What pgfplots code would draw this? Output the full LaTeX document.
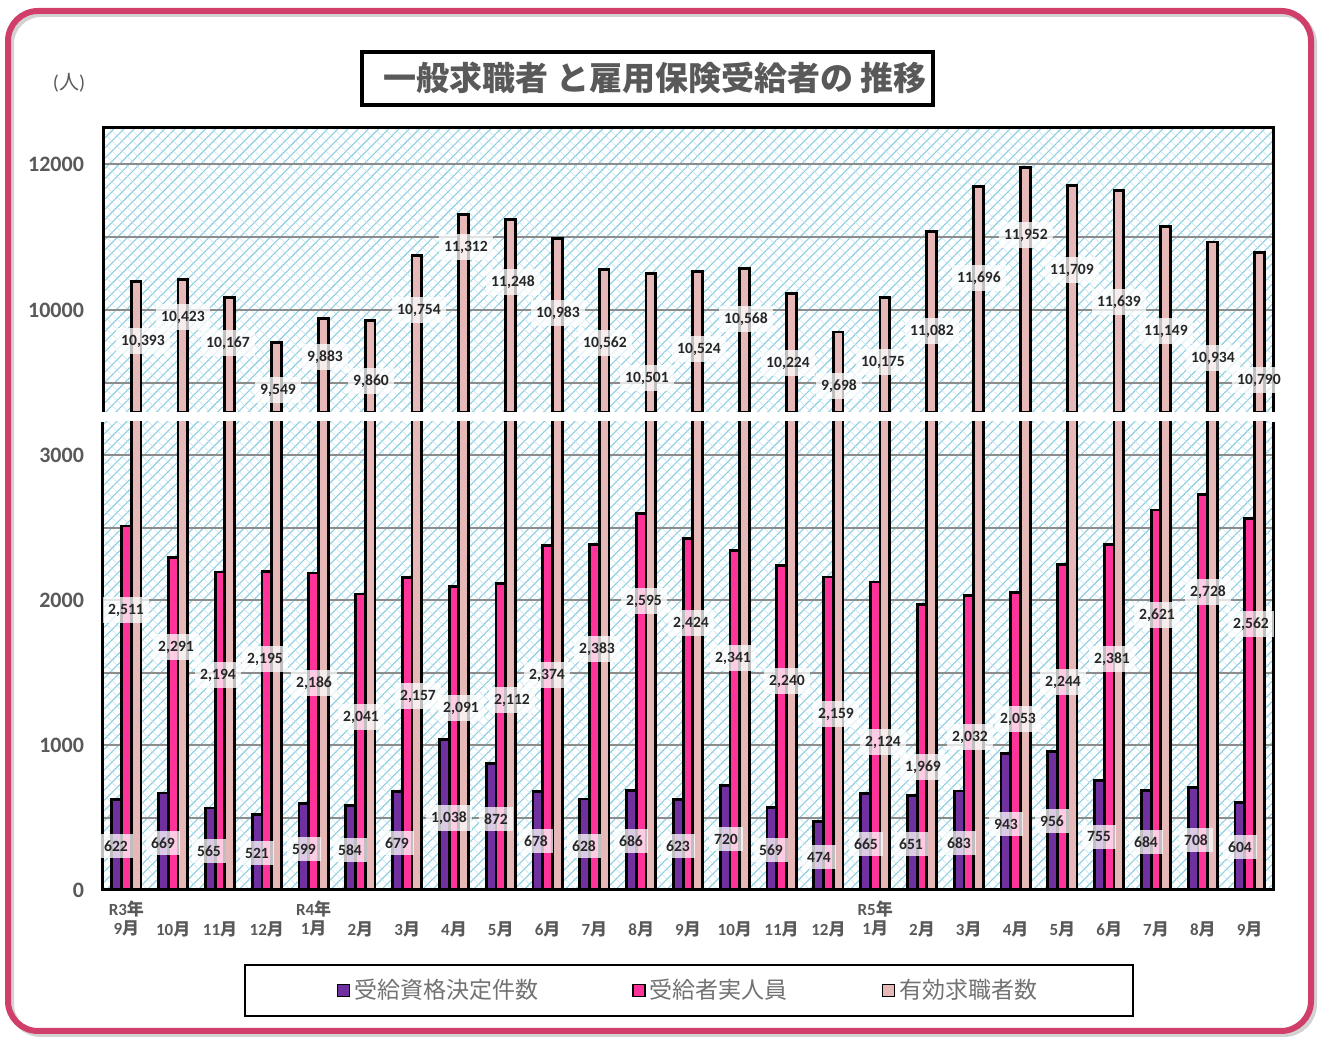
\documentclass[border=0pt]{standalone}
\usepackage{fontspec}
\setmainfont{Carlito}
\newfontfamily\cjk{Noto Sans CJK JP}
\usepackage{pgfplots}
\usepackage{pgfplotstable}
\pgfplotsset{compat=1.18}
\usetikzlibrary{patterns.meta}
\definecolor{cpurple}{RGB}{112,48,160}
\definecolor{cmag}{RGB}{255,51,153}
\definecolor{cpink}{RGB}{230,185,184}
\definecolor{ctxt}{RGB}{89,89,89}
\definecolor{clab}{RGB}{38,38,38}
\definecolor{cframe}{RGB}{208,62,106}
\definecolor{cpat}{RGB}{140,205,225}
\definecolor{cgrid}{RGB}{140,140,140}
\newcommand{\M}[1]{#1{\cjk 月}}

\pgfplotstableread{
x dec act reg
0 622 2511 10393
1 669 2291 10423
2 565 2194 10167
3 521 2195 9549
4 599 2186 9883
5 584 2041 9860
6 679 2157 10754
7 1038 2091 11312
8 872 2112 11248
9 678 2374 10983
10 628 2383 10562
11 686 2595 10501
12 623 2424 10524
13 720 2341 10568
14 569 2240 10224
15 474 2159 9698
16 665 2124 10175
17 651 1969 11082
18 683 2032 11696
19 943 2053 11952
20 956 2244 11709
21 755 2381 11639
22 684 2621 11149
23 708 2728 10934
24 604 2562 10790
}\data

\begin{document}
\begin{tikzpicture}
\useasboundingbox (0,0) rectangle (659pt,518.5pt);
\begin{scope}[x=0.5pt,y=-0.5pt,shift={(0pt,518.5pt)}]
\draw[gray!35, line width=3pt, rounded corners=15pt] (11,14) rectangle (1314,1034);
\draw[cframe, line width=3pt, rounded corners=15pt] (8,11) rectangle (1311,1031);
\draw[line width=2pt] (362,52) rectangle (933,105);
\node[text=ctxt, font=\cjk\fontsize{16.5}{18}\selectfont\bfseries] at (655,78) {一般求職者 と雇用保険受給者の 推移};
\node[text=ctxt, font=\fontsize{10}{12}\selectfont] at (69,83) {({\cjk 人})};
\end{scope}
\pgfplotsset{
  brk/.style={
    scale only axis, width=585pt, xmin=-0.5, xmax=24.5,
    clip mode=individual, scaled y ticks=false,
    axis line style={draw=none}, major tick length=0pt,
    ymajorgrids, major grid style={cgrid,line width=1pt},
    axis background/.style={fill=white,
      postaction={pattern={Lines[angle=45,distance=3.6pt,line width=0.55pt]},pattern color=cpat},
      postaction={pattern={Lines[angle=-45,distance=3.6pt,line width=0.25pt]},pattern color=cpat!55}},
    yticklabel style={font=\fontsize{11}{13}\selectfont\bfseries, text=ctxt, xshift=-6pt},
    bar width=4.85pt,
    every axis plot/.append style={draw=black, line width=1.4pt},
    lg/.style={legend image code/.code={\draw[##1, line width=0.8pt, draw=black] (0pt,-3pt) rectangle (6pt,3pt);}},
  }
}
\begin{axis}[brk, at={(51.5pt,312.5pt)}, anchor=south west, height=142pt,
  ymin=8600, ymax=12500, xtick=\empty,
  ytick={9000,10000,11000,12000}, yticklabels={,10000,,12000},
  after end axis/.code={\draw[line width=1.5pt] (rel axis cs:0,0)--(rel axis cs:0,1)--(rel axis cs:1,1)--(rel axis cs:1,0);}]
\addplot[ybar, fill=cpink, bar shift=4.85pt] table[x=x,y=reg]{\data};
\end{axis}
\begin{axis}[brk, at={(51.5pt,73.5pt)}, anchor=south west, height=234pt,
  ymin=0, ymax=3228,
  ytick={0,500,...,3000}, yticklabels={0,,1000,,2000,,3000},
  xtick={0,...,24},
  xticklabels={{R3{\cjk 年}\\\M{9}},{\strut\\\M{10}},{\strut\\\M{11}},{\strut\\\M{12}},{R4{\cjk 年}\\\M{1}},{\strut\\\M{2}},{\strut\\\M{3}},{\strut\\\M{4}},{\strut\\\M{5}},{\strut\\\M{6}},{\strut\\\M{7}},{\strut\\\M{8}},{\strut\\\M{9}},{\strut\\\M{10}},{\strut\\\M{11}},{\strut\\\M{12}},{R5{\cjk 年}\\\M{1}},{\strut\\\M{2}},{\strut\\\M{3}},{\strut\\\M{4}},{\strut\\\M{5}},{\strut\\\M{6}},{\strut\\\M{7}},{\strut\\\M{8}},{\strut\\\M{9}}},
  xticklabel style={align=center, font=\fontsize{8.5}{9.5}\selectfont\bfseries, text=ctxt, yshift=-2pt},
  legend style={at={(axis description cs:0.5009,-0.2147)}, anchor=center, legend columns=3,
    draw=black, line width=1pt, font=\cjk\fontsize{11.5}{13}\selectfont, text=ctxt!85,
    inner xsep=46pt, inner ysep=5pt,
    /tikz/every even column/.append style={column sep=45pt}},
  after end axis/.code={\draw[line width=1.5pt] (rel axis cs:0,1)--(rel axis cs:0,0)--(rel axis cs:1,0)--(rel axis cs:1,1);}]
\addplot[ybar, fill=cpurple, bar shift=-4.85pt, lg] table[x=x,y=dec]{\data};
\addplot[ybar, fill=cmag, bar shift=0pt, lg] table[x=x,y=act]{\data};
\addplot[ybar, fill=cpink, bar shift=4.85pt, lg] table[x=x,y=reg]{\data};
\legend{受給資格決定件数,受給者実人員,有効求職者数}
\end{axis}
\begin{scope}[x=0.5pt,y=-0.5pt,shift={(0pt,518.5pt)},
  lab/.style={fill=white, fill opacity=0.75, text opacity=1, inner xsep=2.5pt, inner ysep=3.5pt,
    font=\fontsize{7.8}{9}\selectfont\bfseries, text=clab}]
\foreach \x/\y/\t in {143/341/{10,393},183/317/{10,423},228/343/{10,167},278/390/{9,549},325/357/{9,883},371/381/{9,860},419/310/{10,754},466/247/{11,312},513/282/{11,248},558/313/{10,983},605/343/{10,562},647/378/{10,501},699/349/{10,524},746/319/{10,568},788/363/{10,224},839/386/{9,698},883/362/{10,175},932/331/{11,082},979/278/{11,696},1026/235/{11,952},1072/270/{11,709},1119/302/{11,639},1166/331/{11,149},1213/358/{10,934},1259/380/{10,790}}
  \node[lab] at (\x,\y) {\t};
\foreach \x/\y/\t in {126/610/{2,511},176/647/{2,291},218/675/{2,194},265/659/{2,195},314/683/{2,186},361/717/{2,041},418/696/{2,157},461/708/{2,091},512/700/{2,112},547/675/{2,374},597/649/{2,383},644/601/{2,595},691/623/{2,424},733/658/{2,341},787/681/{2,240},836/714/{2,159},883/742/{2,124},923/767/{1,969},970/737/{2,032},1018/719/{2,053},1063/682/{2,244},1112/659/{2,381},1157/615/{2,621},1208/592/{2,728},1251/624/{2,562}}
  \node[lab] at (\x,\y) {\t};
\foreach \x/\y/\t in {116/846/622,163/843/669,209/851/565,257/853/521,304/849/599,350/850/584,397/843/679,449/818/{1,038},496/819/872,536/841/678,584/846/628,631/841/686,678/846/623,726/839/720,771/850/569,819/857/474,866/844/665,911/844/651,959/843/683,1006/824/943,1052/821/956,1099/837/755,1146/842/684,1196/840/708,1240/847/604}
  \node[lab] at (\x,\y) {\t};
\end{scope}
\end{tikzpicture}
\end{document}
